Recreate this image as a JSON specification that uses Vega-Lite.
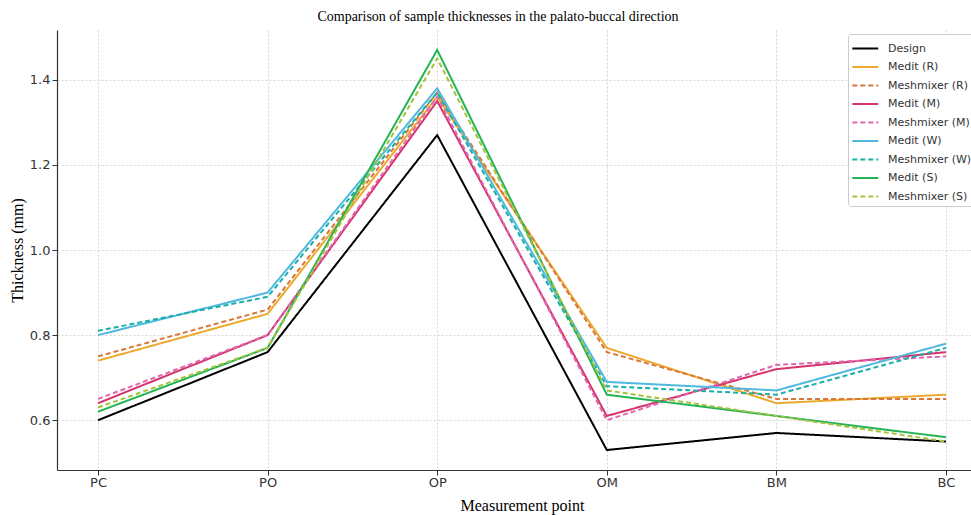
{
  "$schema": "https://vega.github.io/schema/vega-lite/v6.json",
  "autosize": "none",
  "width": 930,
  "height": 440,
  "padding": {"left": 57, "top": 30, "right": 0, "bottom": 45},
  "background": "white",
  "title": {
    "text": "Comparison of sample thicknesses in the palato-buccal direction",
    "font": "Liberation Serif",
    "fontSize": 14,
    "fontWeight": "normal",
    "color": "black",
    "anchor": "middle",
    "dx": -24,
    "offset": 6
  },
  "config": {
    "view": {"stroke": null},
    "axis": {
      "gridColor": "#cccccc",
      "gridDash": [2, 2],
      "gridWidth": 0.8,
      "domainColor": "#333333",
      "domainWidth": 1.2,
      "tickColor": "#333333",
      "labelFont": "DejaVu Sans",
      "labelFontSize": 13,
      "labelColor": "#333333",
      "titleFont": "Liberation Serif",
      "titleFontSize": 16,
      "titleFontWeight": "normal",
      "titleColor": "black"
    }
  },
  "data": {
    "values": [
      {"series": "Design", "point": "PC", "value": 0.60},
      {"series": "Design", "point": "PO", "value": 0.76},
      {"series": "Design", "point": "OP", "value": 1.27},
      {"series": "Design", "point": "OM", "value": 0.53},
      {"series": "Design", "point": "BM", "value": 0.57},
      {"series": "Design", "point": "BC", "value": 0.55},
      {"series": "Medit (R)", "point": "PC", "value": 0.74},
      {"series": "Medit (R)", "point": "PO", "value": 0.85},
      {"series": "Medit (R)", "point": "OP", "value": 1.36},
      {"series": "Medit (R)", "point": "OM", "value": 0.77},
      {"series": "Medit (R)", "point": "BM", "value": 0.64},
      {"series": "Medit (R)", "point": "BC", "value": 0.66},
      {"series": "Meshmixer (R)", "point": "PC", "value": 0.75},
      {"series": "Meshmixer (R)", "point": "PO", "value": 0.86},
      {"series": "Meshmixer (R)", "point": "OP", "value": 1.37},
      {"series": "Meshmixer (R)", "point": "OM", "value": 0.76},
      {"series": "Meshmixer (R)", "point": "BM", "value": 0.65},
      {"series": "Meshmixer (R)", "point": "BC", "value": 0.65},
      {"series": "Medit (M)", "point": "PC", "value": 0.64},
      {"series": "Medit (M)", "point": "PO", "value": 0.80},
      {"series": "Medit (M)", "point": "OP", "value": 1.35},
      {"series": "Medit (M)", "point": "OM", "value": 0.61},
      {"series": "Medit (M)", "point": "BM", "value": 0.72},
      {"series": "Medit (M)", "point": "BC", "value": 0.76},
      {"series": "Meshmixer (M)", "point": "PC", "value": 0.65},
      {"series": "Meshmixer (M)", "point": "PO", "value": 0.80},
      {"series": "Meshmixer (M)", "point": "OP", "value": 1.36},
      {"series": "Meshmixer (M)", "point": "OM", "value": 0.60},
      {"series": "Meshmixer (M)", "point": "BM", "value": 0.73},
      {"series": "Meshmixer (M)", "point": "BC", "value": 0.75},
      {"series": "Medit (W)", "point": "PC", "value": 0.80},
      {"series": "Medit (W)", "point": "PO", "value": 0.90},
      {"series": "Medit (W)", "point": "OP", "value": 1.38},
      {"series": "Medit (W)", "point": "OM", "value": 0.69},
      {"series": "Medit (W)", "point": "BM", "value": 0.67},
      {"series": "Medit (W)", "point": "BC", "value": 0.78},
      {"series": "Meshmixer (W)", "point": "PC", "value": 0.81},
      {"series": "Meshmixer (W)", "point": "PO", "value": 0.89},
      {"series": "Meshmixer (W)", "point": "OP", "value": 1.37},
      {"series": "Meshmixer (W)", "point": "OM", "value": 0.68},
      {"series": "Meshmixer (W)", "point": "BM", "value": 0.66},
      {"series": "Meshmixer (W)", "point": "BC", "value": 0.77},
      {"series": "Medit (S)", "point": "PC", "value": 0.62},
      {"series": "Medit (S)", "point": "PO", "value": 0.77},
      {"series": "Medit (S)", "point": "OP", "value": 1.47},
      {"series": "Medit (S)", "point": "OM", "value": 0.66},
      {"series": "Medit (S)", "point": "BM", "value": 0.61},
      {"series": "Medit (S)", "point": "BC", "value": 0.56},
      {"series": "Meshmixer (S)", "point": "PC", "value": 0.63},
      {"series": "Meshmixer (S)", "point": "PO", "value": 0.77},
      {"series": "Meshmixer (S)", "point": "OP", "value": 1.45},
      {"series": "Meshmixer (S)", "point": "OM", "value": 0.67},
      {"series": "Meshmixer (S)", "point": "BM", "value": 0.61},
      {"series": "Meshmixer (S)", "point": "BC", "value": 0.55}
    ]
  },
  "mark": {"type": "line", "strokeWidth": 2},
  "encoding": {
    "x": {
      "field": "point",
      "type": "nominal",
      "sort": ["PC", "PO", "OP", "OM", "BM", "BC"],
      "scale": {"type": "point", "padding": 0.2417},
      "axis": {"title": "Measurement point", "labelAngle": 0, "grid": true, "tickSize": 5, "labelPadding": 1, "titlePadding": 8}
    },
    "y": {
      "field": "value",
      "type": "quantitative",
      "scale": {"domain": [0.483, 1.517], "nice": false, "zero": false},
      "axis": {"title": "Thickness (mm)", "values": [0.6, 0.8, 1.0, 1.2, 1.4], "format": ".1f", "grid": true, "tickSize": 5, "titlePadding": 4}
    },
    "color": {
      "field": "series",
      "type": "nominal",
      "scale": {
        "domain": ["Design", "Medit (R)", "Meshmixer (R)", "Medit (M)", "Meshmixer (M)", "Medit (W)", "Meshmixer (W)", "Medit (S)", "Meshmixer (S)"],
        "range": ["#000000", "#EBAA2E", "#D9773A", "#D6336C", "#E066B0", "#4FB8DE", "#1AAFA8", "#22B455", "#A6C23A"]
      },
      "legend": {
        "title": null,
        "orient": "none",
        "legendX": 791,
        "legendY": 4,
        "fillColor": "white",
        "strokeColor": "#cccccc",
        "cornerRadius": 3,
        "padding": 4,
        "symbolType": "M-1.1,0H1.7",
        "symbolStrokeWidth": 2,
        "symbolFillColor": "transparent",
        "symbolSize": 342,
        "labelOffset": 15,
        "labelFont": "DejaVu Sans",
        "labelFontSize": 11,
        "labelColor": "#333333",
        "rowPadding": 2.5
      }
    },
    "strokeDash": {
      "field": "series",
      "type": "nominal",
      "scale": {
        "domain": ["Design", "Medit (R)", "Meshmixer (R)", "Medit (M)", "Meshmixer (M)", "Medit (W)", "Meshmixer (W)", "Medit (S)", "Meshmixer (S)"],
        "range": [[1, 0], [1, 0], [5, 3], [1, 0], [5, 3], [1, 0], [5, 3], [1, 0], [5, 3]]
      },
      "legend": null
    }
  }
}
